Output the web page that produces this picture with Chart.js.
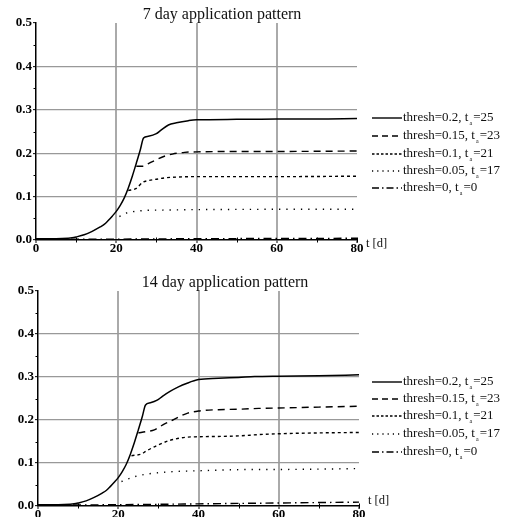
<!DOCTYPE html>
<html>
<head>
<meta charset="utf-8">
<script src="https://cdn.jsdelivr.net/npm/chart.js@4"></script>
<style>
  html, body { margin:0; padding:0; background:#fff; overflow:hidden; width:508px; height:517px; }
  .wrap { position:absolute; left:0; width:508px; }
  canvas { position:absolute; left:0; top:0; }
  .title { position:absolute; font-family:"Liberation Serif","DejaVu Serif",serif; font-size:16px; color:#111; white-space:nowrap; transform:translate(-50%,-50%); }
  .unit { position:absolute; font-family:"Liberation Serif","DejaVu Serif",serif; font-size:12.5px; color:#111; white-space:nowrap; transform:translateY(-50%); }
  .leg { position:absolute; left:372px; font-family:"Liberation Serif","DejaVu Serif",serif; font-size:13px; color:#111; }
  .row { position:absolute; left:0; white-space:nowrap; height:16px; width:140px; }
  .row svg { position:absolute; left:0; top:7.5px; width:30px; height:4px; }
  .row span { position:absolute; left:31px; top:0; line-height:16px; }
  .row sub { font-size:6px; vertical-align:-4px; margin:0 1px; line-height:0; }
</style>
</head>
<body>
<div class="wrap" id="w1" style="top:0;height:258px;">
  <canvas id="c1" width="508" height="258"></canvas>
  <div class="title" style="left:222px;top:14px;">7 day application pattern</div>
  <div class="unit" style="left:366px;top:243px;">t [d]</div>
  <div class="leg" id="leg1" style="top:0;"></div>
</div>
<div class="wrap" id="w2" style="top:258px;height:270px;">
  <canvas id="c2" width="508" height="270"></canvas>
  <div class="title" style="left:225px;top:24px;">14 day application pattern</div>
  <div class="unit" style="left:368px;top:242px;">t [d]</div>
  <div class="leg" id="leg2" style="top:0;"></div>
</div>
<script>
// ---------- data ----------
const xTicks = [0, 20, 40, 60, 80];
const yTicks = [0, 0.1, 0.2, 0.3, 0.4, 0.5];
const seriesLabels = ["thresh=0.2, t|a|=25", "thresh=0.15, t|a|=23", "thresh=0.1, t|a|=21", "thresh=0.05, t|a|=17", "thresh=0, t|a|=0"];

// 7 day application pattern
const t7_thr20 = [0, 5, 8, 9, 10, 12, 14, 16, 17, 18, 19, 20, 21, 22, 23, 24, 25, 26, 26.8, 28, 30, 31, 33, 35, 38, 40, 50, 60, 70, 80];
const v7_thr20 = [0.003, 0.003, 0.004, 0.005, 0.007, 0.012, 0.02, 0.03, 0.036, 0.045, 0.055, 0.066, 0.08, 0.097, 0.12, 0.147, 0.177, 0.208, 0.235, 0.239, 0.245, 0.252, 0.265, 0.27, 0.275, 0.277, 0.278, 0.279, 0.279, 0.28];
const t7_thr15 = [25, 26.7, 28, 30, 32, 34, 37, 40, 50, 60, 80];
const v7_thr15 = [0.17, 0.17, 0.176, 0.185, 0.193, 0.198, 0.202, 0.203, 0.204, 0.204, 0.205];
const t7_thr10 = [23, 25, 26.6, 28, 30, 32, 35, 40, 60, 80];
const v7_thr10 = [0.114, 0.119, 0.133, 0.137, 0.14, 0.143, 0.145, 0.146, 0.146, 0.147];
const t7_thr05 = [20.8, 22.5, 24, 27, 32, 40, 80];
const v7_thr05 = [0.054, 0.062, 0.065, 0.068, 0.069, 0.07, 0.071];
const t7_thr00 = [0, 20, 40, 60, 80];
const v7_thr00 = [0.0015, 0.002, 0.003, 0.0035, 0.004];

// 14 day application pattern
const t14_thr20 = [0, 5, 8, 9, 10, 12, 14, 16, 17, 18, 19, 20, 21, 22, 23, 24, 25, 26, 26.8, 28, 29.7, 31, 33, 35, 37, 40, 45, 50, 54, 60, 70, 80];
const v14_thr20 = [0.003, 0.003, 0.004, 0.005, 0.007, 0.012, 0.02, 0.03, 0.036, 0.045, 0.055, 0.066, 0.08, 0.097, 0.12, 0.147, 0.177, 0.208, 0.235, 0.24, 0.246, 0.255, 0.267, 0.277, 0.285, 0.294, 0.297, 0.299, 0.301, 0.302, 0.303, 0.305];
const t14_thr15 = [25, 27, 29, 31, 33.6, 37, 40, 45, 50, 55, 60, 70, 80];
const v14_thr15 = [0.17, 0.173, 0.177, 0.188, 0.2, 0.215, 0.221, 0.224, 0.225, 0.227, 0.228, 0.23, 0.232];
const t14_thr10 = [23.3, 25.8, 27, 30, 33, 37, 40, 50, 55, 60, 70, 80];
const v14_thr10 = [0.117, 0.121, 0.128, 0.142, 0.153, 0.16, 0.161, 0.163, 0.166, 0.168, 0.17, 0.171];
const t14_thr05 = [20.8, 24, 27, 32, 40, 55, 60, 80];
const v14_thr05 = [0.057, 0.068, 0.074, 0.079, 0.082, 0.085, 0.085, 0.087];
const t14_thr00 = [0, 20, 40, 60, 80];
const v14_thr00 = [0.002, 0.003, 0.005, 0.007, 0.009];

// ---------- styling ----------
const dashes = [[], [7, 5], [3, 3], [1.3, 6], [8, 4, 1.5, 4]];
const sampleDashes = [[], [6, 4], [2.5, 2], [1.2, 4], [7, 3, 1.5, 3]];
const SERIF = '"Liberation Serif","DejaVu Serif",serif';

function pts(t, v) { return t.map((x, i) => ({ x: x, y: v[i] })); }

const minorTicks = {
  id: 'minorTicks',
  afterDraw(chart) {
    const { ctx, chartArea: a, scales: { x, y } } = chart;
    ctx.save();
    ctx.strokeStyle = '#000';
    ctx.lineWidth = 1;
    ctx.beginPath();
    [0.05, 0.15, 0.25, 0.35, 0.45].forEach(v => {
      const py = Math.round(y.getPixelForValue(v)) + 0.5;
      ctx.moveTo(a.left - 2.5, py); ctx.lineTo(a.left, py);
    });
    [10, 30, 50, 70, 80].forEach(v => {
      const px = Math.round(x.getPixelForValue(v)) + 0.5;
      ctx.moveTo(px, a.bottom - 2.5); ctx.lineTo(px, a.bottom + 2.5);
    });
    ctx.stroke();
    ctx.restore();
  }
};

function makeChart(id, sets, pad) {
  const datasets = sets.map((s, i) => ({
    label: seriesLabels[i].replace(/\|/g, ''),
    data: pts(s[0], s[1]),
    borderColor: '#000',
    borderWidth: i === 0 ? 1.5 : 1.4,
    borderDash: dashes[i],
    pointRadius: 0,
    fill: false,
    cubicInterpolationMode: 'monotone'
  }));
  const tickFont = { family: SERIF, size: 13, weight: 'bold' };
  return new Chart(document.getElementById(id), {
    type: 'line',
    data: { datasets },
    options: {
      responsive: false,
      animation: false,
      devicePixelRatio: 1,
      layout: { padding: pad },
      plugins: { legend: { display: false }, title: { display: false }, tooltip: { enabled: false } },
      scales: {
        x: {
          type: 'linear', min: 0, max: 80,
          afterBuildTicks: s => { s.ticks = xTicks.map(v => ({ value: v })); },
          afterFit: s => { s.height = 18; },
          ticks: { font: tickFont, color: '#000', padding: -2, maxRotation: 0, autoSkip: false, callback: v => String(v) },
          grid: {
            color: c => (c.tick && (c.tick.value === 20 || c.tick.value === 40 || c.tick.value === 60)) ? '#aaaaaa' : 'rgba(0,0,0,0)',
            lineWidth: 2, tickLength: 3, tickColor: '#000', tickWidth: 1
          },
          border: { display: true, color: '#000', width: 1.5 }
        },
        y: {
          type: 'linear', min: 0, max: 0.5,
          afterBuildTicks: s => { s.ticks = yTicks.map(v => ({ value: v })); },
          afterFit: s => { s.width = pad.yw; },
          ticks: { font: tickFont, color: '#000', padding: 1, autoSkip: false, callback: v => v.toFixed(1) },
          grid: {
            color: c => (c.tick && c.tick.value > 0.01 && c.tick.value < 0.45) ? '#999999' : 'rgba(0,0,0,0)',
            lineWidth: 1.3, tickLength: 3, tickColor: '#000', tickWidth: 1
          },
          border: { display: true, color: '#000', width: 1.5 }
        }
      }
    },
    plugins: [minorTicks]
  });
}

makeChart('c1', [[t7_thr20, v7_thr20], [t7_thr15, v7_thr15], [t7_thr10, v7_thr10], [t7_thr05, v7_thr05], [t7_thr00, v7_thr00]],
  { left: 0, top: 23, right: 151, bottom: 0, yw: 36 });
makeChart('c2', [[t14_thr20, v14_thr20], [t14_thr15, v14_thr15], [t14_thr10, v14_thr10], [t14_thr05, v14_thr05], [t14_thr00, v14_thr00]],
  { left: 0, top: 33, right: 149, bottom: 4, yw: 38 });

// ---------- legends (HTML, with subscript) ----------
function buildLegend(elId, rowsY) {
  const el = document.getElementById(elId);
  seriesLabels.forEach((lab, i) => {
    const parts = lab.split('|');
    const row = document.createElement('div');
    row.className = 'row';
    row.style.top = (rowsY[i] - 9.5) + 'px';
    const d = sampleDashes[i].length ? ` stroke-dasharray="${sampleDashes[i].join(' ')}"` : '';
    row.innerHTML = `<svg viewBox="0 0 30 4"><line x1="0" y1="2" x2="30" y2="2" stroke="#000" stroke-width="1.4"${d}/></svg>` +
      `<span>${parts[0]}<sub>${parts[1]}</sub>${parts[2]}</span>`;
    el.appendChild(row);
  });
}
buildLegend('leg1', [118, 136, 154, 171, 188]);
buildLegend('leg2', [124, 141, 158, 176, 194]);
</script>
</body>
</html>
